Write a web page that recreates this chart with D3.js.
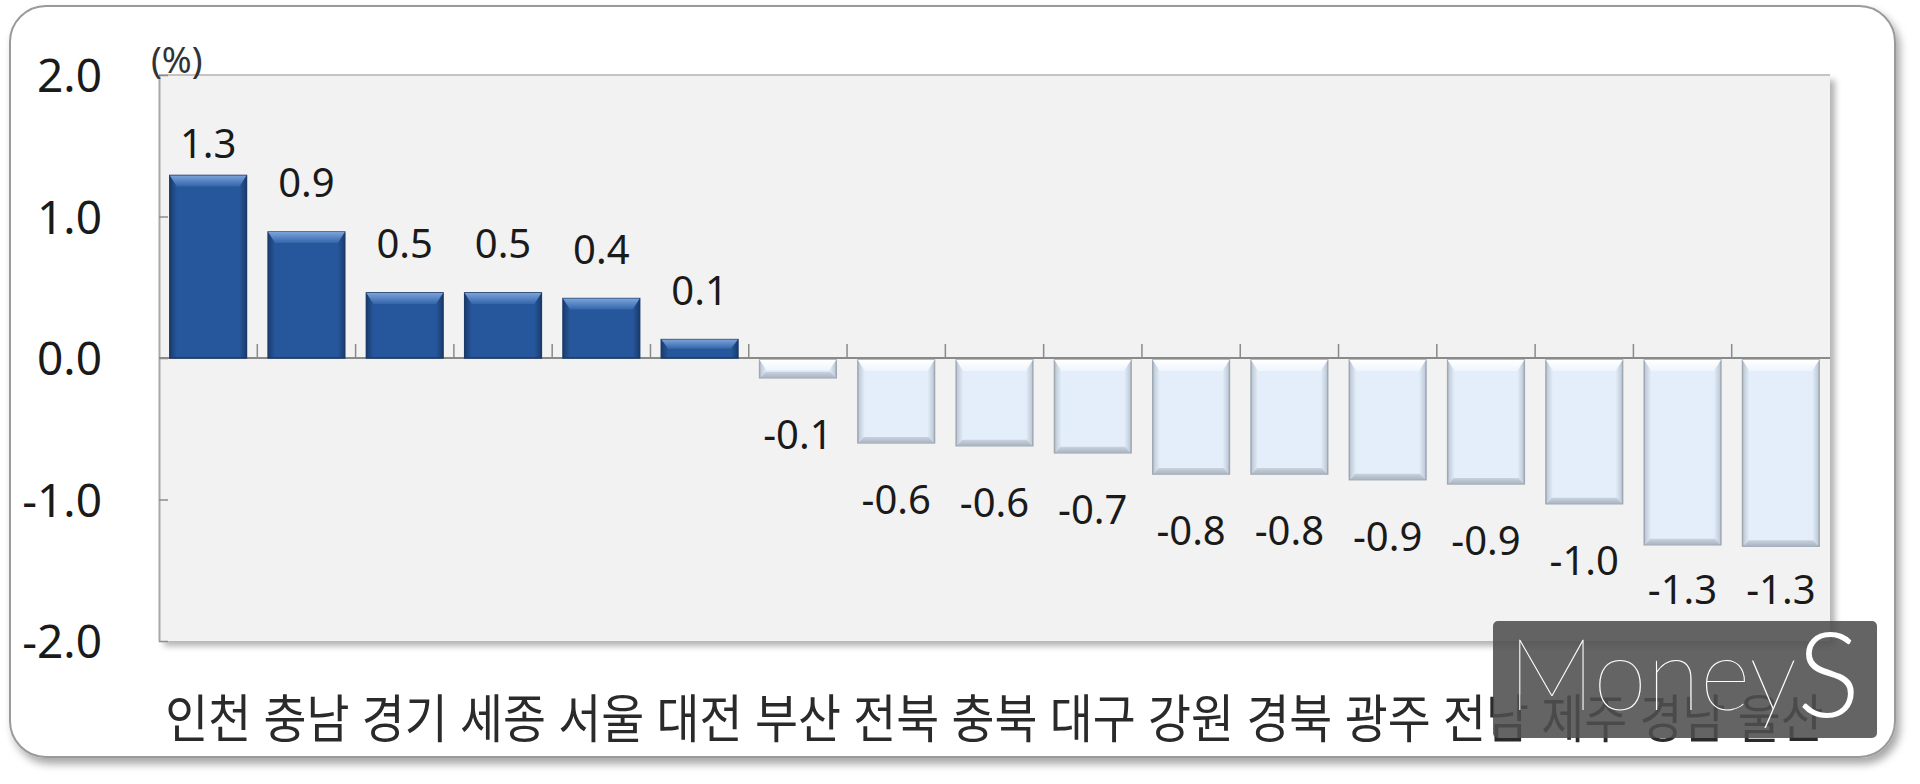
<!DOCTYPE html>
<html>
<head>
<meta charset="utf-8">
<script src="https://cdn.jsdelivr.net/npm/d3@7"></script>
<style>
  html, body { margin: 0; padding: 0; background: #fff; }
  svg { display: block; }
</style>
</head>
<body>
<div id="chart"></div>
<script>
// region names, left to right
var categories = ["인천", "충남", "경기", "세종", "서울", "대전", "부산", "전북", "충북",
                  "대구", "강원", "경북", "광주", "전남", "제주", "경남", "울산"]
// change in % (labels show one decimal)
var values = [1.29, 0.89, 0.46, 0.46, 0.42, 0.13, -0.14, -0.60, -0.62,
              -0.67, -0.82, -0.82, -0.86, -0.89, -1.03, -1.32, -1.33]
var yTicks = [2, 1, 0, -1, -2]
var unitLabel = "(%)"
var watermark = ["Money", "S"]

var width = 1920, height = 784
var margins = {left: 159, right: 90, top: 75, bottom: 143}
var inner_width = width - margins.left - margins.right
var inner_height = height - margins.top - margins.bottom

var svg = d3.select("#chart").append("svg")
            .attr("width", width)
            .attr("height", height)

var defs = svg.append("defs")

// drop shadows for the outer card and the plot area
var f1 = defs.append("filter").attr("id", "cardShadow")
            .attr("x", "-5%").attr("y", "-5%").attr("width", "110%").attr("height", "115%")
f1.append("feDropShadow").attr("dx", 4).attr("dy", 6).attr("stdDeviation", 4)
  .attr("flood-color", "#000").attr("flood-opacity", 0.35)
var f2 = defs.append("filter").attr("id", "plotShadow")
            .attr("x", "-5%").attr("y", "-5%").attr("width", "110%").attr("height", "115%")
f2.append("feDropShadow").attr("dx", 5).attr("dy", 5).attr("stdDeviation", 3)
  .attr("flood-color", "#000").attr("flood-opacity", 0.3)

function hgrad(id, edge, mid) {
  var g = defs.append("linearGradient").attr("id", id)
  g.append("stop").attr("offset", "0%").attr("stop-color", edge)
  g.append("stop").attr("offset", "9%").attr("stop-color", mid)
  g.append("stop").attr("offset", "91%").attr("stop-color", mid)
  g.append("stop").attr("offset", "100%").attr("stop-color", edge)
}
function vgrad(id, c1, c2) {
  var g = defs.append("linearGradient").attr("id", id)
              .attr("x1", 0).attr("x2", 0).attr("y1", 0).attr("y2", 1)
  g.append("stop").attr("offset", "0%").attr("stop-color", c1)
  g.append("stop").attr("offset", "100%").attr("stop-color", c2)
}
hgrad("posBody", "#1a3c6d", "#26569b")
hgrad("negBody", "#b9c5d2", "#e3eefa")
vgrad("posTop", "#7aa3da", "#3465aa")
vgrad("negTop", "#ffffff", "#eef5fd")
vgrad("negBottom", "#c9d3de", "#a9b4c0")

// outer rounded card
svg.append("rect")
   .attr("x", 10).attr("y", 6)
   .attr("width", 1885).attr("height", 751)
   .attr("rx", 36)
   .attr("fill", "#fff")
   .attr("stroke", "#9a9a9a")
   .attr("stroke-width", 2)
   .attr("filter", "url(#cardShadow)")

var g = svg.append("g")
           .attr("transform", "translate(" + margins.left + "," + margins.top + ")")

var x = d3.scaleBand()
          .domain(categories)
          .range([0, inner_width])
          .paddingInner(0.22)
          .paddingOuter(0.11)

var y = d3.scaleLinear()
          .domain([-2, 2])
          .range([inner_height, 0])

// plot background
g.append("rect")
 .attr("width", inner_width).attr("height", inner_height)
 .attr("fill", "#f2f2f2")
 .attr("filter", "url(#plotShadow)")
g.append("line")
 .attr("x1", 0).attr("x2", inner_width).attr("y1", 0).attr("y2", 0)
 .attr("stroke", "#c4c4c4").attr("stroke-width", 2)

// y axis (left border of the plot + inward ticks)
var yAxis = g.append("g")
   .call(d3.axisLeft(y).tickValues(yTicks)
           .tickFormat(function (d) { return d.toFixed(1) })
           .tickSize(-9).tickSizeOuter(0).tickPadding(57))
yAxis.select(".domain").attr("stroke", "#a8a8a8").attr("stroke-width", 2)
yAxis.selectAll(".tick line").attr("stroke", "#8c8c8c").attr("stroke-width", 1.5)
yAxis.selectAll(".tick text")
     .attr("font-family", "'Noto Sans', 'Open Sans', sans-serif")
     .attr("font-size", 46)
     .attr("fill", "#1a1a1a")
     .attr("dy", "0.36em")

g.append("text")
 .attr("x", -8).attr("y", -2)
 .attr("font-family", "'Noto Sans', sans-serif")
 .attr("font-size", 36)
 .attr("fill", "#333")
 .text(unitLabel)

// zero line and category boundary ticks
var y0 = y(0)
g.append("line")
 .attr("x1", 0).attr("x2", inner_width).attr("y1", y0).attr("y2", y0)
 .attr("stroke", "#8a8a8a").attr("stroke-width", 2)
var step = x.step()
g.selectAll(".ctick").data(d3.range(1, categories.length))
 .enter().append("line")
 .attr("x1", function (d) { return x(categories[d]) - step * 0.11 })
 .attr("x2", function (d) { return x(categories[d]) - step * 0.11 })
 .attr("y1", y0 - 14).attr("y2", y0)
 .attr("stroke", "#8a8a8a").attr("stroke-width", 1.5)

// bars with a simple bevel
var data = categories.map(function (c, i) { return {cat: c, v: values[i]} })
var bw = x.bandwidth()
var bars = g.selectAll(".bar").data(data).enter().append("g")
            .attr("transform", function (d) { return "translate(" + x(d.cat) + ",0)" })

bars.append("rect")
    .attr("x", 0)
    .attr("y", function (d) { return d.v >= 0 ? y(d.v) : y0 + 2 })
    .attr("width", bw)
    .attr("height", function (d) { return Math.abs(y(d.v) - y0) - (d.v >= 0 ? 0 : 2) })
    .attr("fill", function (d) { return d.v >= 0 ? "url(#posBody)" : "url(#negBody)" })
    .attr("stroke", function (d) { return d.v >= 0 ? "#1a3a68" : "#9ea9b4" })
    .attr("stroke-width", 1.5)

bars.append("path")
    .attr("d", function (d) {
      var top = d.v >= 0 ? y(d.v) : y0 + 2
      var h = Math.min(11, Math.abs(y(d.v) - y0) / 2)
      return "M0," + top + "L" + bw + "," + top + "L" + (bw - 7) + "," + (top + h) +
             "L7," + (top + h) + "Z"
    })
    .attr("fill", function (d) { return d.v >= 0 ? "url(#posTop)" : "url(#negTop)" })

bars.filter(function (d) { return d.v < 0 })
    .append("path")
    .attr("d", function (d) {
      var bot = y(d.v)
      var h = Math.min(6, Math.abs(y(d.v) - y0) / 3)
      return "M1," + bot + "L" + (bw - 1) + "," + bot + "L" + (bw - 6) + "," + (bot - h) +
             "L6," + (bot - h) + "Z"
    })
    .attr("fill", "url(#negBottom)")

// value labels
bars.append("text")
    .attr("x", bw / 2)
    .attr("y", function (d) {
      if (d.v >= 0) return Math.max(y(d.v) - 35, 83)
      return Math.min(y(d.v) + 71, inner_height - 37)
    })
    .attr("text-anchor", "middle")
    .attr("font-family", "'Noto Sans', 'Open Sans', sans-serif")
    .attr("font-size", 40)
    .attr("fill", "#1a1a1a")
    .text(function (d) { return d.v.toFixed(1) })

// category labels
g.selectAll(".cat").data(categories)
 .enter().append("text")
 .attr("x", function (d) { return x(d) + bw / 2 })
 .attr("y", inner_height + 74)
 .attr("dominant-baseline", "central")
 .attr("text-anchor", "middle")
 .attr("font-family", "'Noto Sans CJK KR', sans-serif")
 .attr("font-size", 52)
 .attr("textLength", 86)
 .attr("lengthAdjust", "spacingAndGlyphs")
 .attr("fill", "#2a2a2a")
 .text(function (d) { return d })

// watermark
svg.append("rect")
   .attr("x", 1493).attr("y", 621)
   .attr("width", 384).attr("height", 117)
   .attr("rx", 5)
   .attr("fill", "#4f4f4f")
   .attr("opacity", 0.88)
svg.append("text")
   .attr("x", 1508).attr("y", 710)
   .attr("font-family", "Lato, 'Open Sans', sans-serif")
   .attr("font-weight", 100)
   .attr("font-size", 100)
   .attr("textLength", 289)
   .attr("lengthAdjust", "spacingAndGlyphs")
   .attr("fill", "#fff")
   .text(watermark[0])
svg.append("text")
   .attr("x", 1797).attr("y", 717)
   .attr("font-family", "Lato, 'Open Sans', sans-serif")
   .attr("font-weight", 300)
   .attr("font-size", 118)
   .attr("fill", "#fff")
   .text(watermark[1])
</script>
</body>
</html>
